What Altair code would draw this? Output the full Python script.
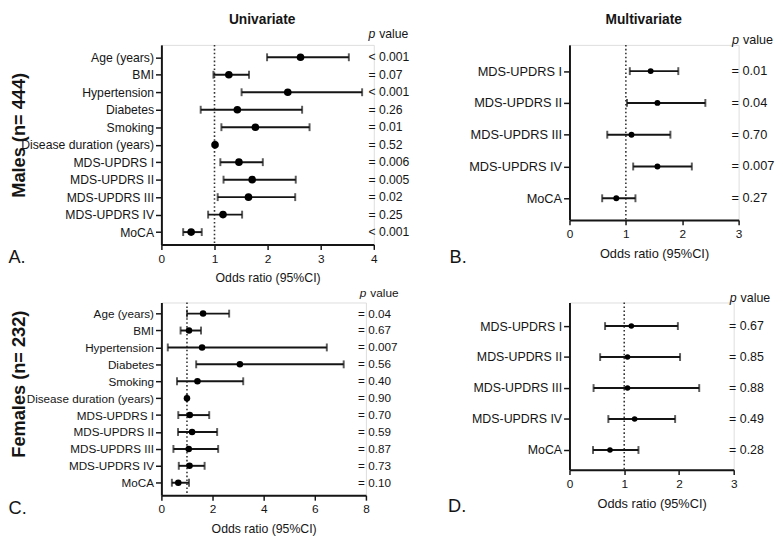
import altair as alt
import pandas as pd

# ---------------- data ----------------
uni_vars = ["Age (years)", "BMI", "Hypertension", "Diabetes", "Smoking",
            "Disease duration (years)", "MDS-UPDRS I", "MDS-UPDRS II",
            "MDS-UPDRS III", "MDS-UPDRS IV", "MoCA"]
multi_vars = ["MDS-UPDRS I", "MDS-UPDRS II", "MDS-UPDRS III", "MDS-UPDRS IV", "MoCA"]

# A. Males, univariate
male_uni_or = [2.62, 1.27, 2.38, 1.43, 1.77, 1.01, 1.46, 1.71, 1.64, 1.16, 0.56]
male_uni_lo = [1.99, 0.98, 1.51, 0.74, 1.13, 1.00, 1.11, 1.17, 1.06, 0.88, 0.41]
male_uni_hi = [3.53, 1.65, 3.78, 2.65, 2.79, 1.02, 1.91, 2.53, 2.52, 1.52, 0.76]
male_uni_p = ["< 0.001", "= 0.07", "< 0.001", "= 0.26", "= 0.01", "= 0.52",
              "= 0.006", "= 0.005", "= 0.02", "= 0.25", "< 0.001"]

# B. Males, multivariate
male_multi_or = [1.44, 1.56, 1.10, 1.56, 0.83]
male_multi_lo = [1.07, 1.02, 0.67, 1.13, 0.58]
male_multi_hi = [1.93, 2.41, 1.79, 2.17, 1.17]
male_multi_p = ["= 0.01", "= 0.04", "= 0.70", "= 0.007", "= 0.27"]

# C. Females, univariate
fem_uni_or = [1.63, 1.08, 1.59, 3.07, 1.41, 1.00, 1.11, 1.20, 1.07, 1.10, 0.66]
fem_uni_lo = [1.00, 0.75, 0.25, 1.36, 0.61, 0.99, 0.66, 0.65, 0.47, 0.68, 0.41]
fem_uni_hi = [2.65, 1.55, 6.47, 7.13, 3.20, 1.01, 1.87, 2.18, 2.22, 1.69, 1.08]
fem_uni_p = ["= 0.04", "= 0.67", "= 0.007", "= 0.56", "= 0.40", "= 0.90",
             "= 0.70", "= 0.59", "= 0.87", "= 0.73", "= 0.10"]

# D. Females, multivariate
fem_multi_or = [1.13, 1.06, 1.06, 1.19, 0.74]
fem_multi_lo = [0.65, 0.56, 0.44, 0.71, 0.43]
fem_multi_hi = [1.98, 2.02, 2.37, 1.93, 1.26]
fem_multi_p = ["= 0.67", "= 0.85", "= 0.88", "= 0.49", "= 0.28"]

FONT = "Liberation Sans"
INK = "#151515"


def text_layer(txt, x, y, size, weight="normal", style="normal", align="left",
               baseline="alphabetic", angle=0):
    return alt.Chart(pd.DataFrame({"t": [txt]})).mark_text(
        font=FONT, fontSize=size, fontWeight=weight, fontStyle=style,
        align=align, baseline=baseline, angle=angle, color=INK
    ).encode(text="t:N", x=alt.value(x), y=alt.value(y))


def panel(names, orv, lo, hi, pv, W, H, xmax, xticks, pad, align, lab_fs,
          pt_size, title_fs, ptx, annots):
    df = pd.DataFrame({"var": names, "or": orv, "lo": lo, "hi": hi, "pv": pv})
    yaxis = alt.Axis(title=None, labelFont=FONT, labelFontSize=lab_fs, labelColor=INK,
                     tickSize=6, tickWidth=1.5, tickColor=INK, domainColor=INK,
                     domainWidth=2, labelPadding=2, grid=False, labelLimit=300)
    yenc = alt.Y("var:N", sort=names, axis=yaxis,
                 scale=alt.Scale(type="point", padding=pad, align=align))
    xaxis = alt.Axis(title="Odds ratio (95%CI)", values=xticks, format="d",
                     labelFont=FONT, labelFontSize=12, labelColor=INK, labelFlush=False,
                     tickSize=5, tickWidth=1.5, tickColor=INK, domainColor=INK,
                     domainWidth=2, labelPadding=4, grid=False,
                     titleFont=FONT, titleFontSize=title_fs, titleFontWeight="normal",
                     titleColor=INK, titlePadding=8)
    xscale = alt.Scale(domain=[0, xmax], nice=False, zero=True)

    base = alt.Chart(df)
    bars = base.mark_rule(color=INK, strokeWidth=2).encode(
        x=alt.X("lo:Q", scale=xscale, axis=xaxis), x2="hi:Q", y=yenc)
    cap_lo = base.mark_tick(color=INK, thickness=2, size=8).encode(
        x=alt.X("lo:Q", scale=xscale, axis=xaxis), y=yenc)
    cap_hi = base.mark_tick(color=INK, thickness=2, size=8).encode(
        x=alt.X("hi:Q", scale=xscale, axis=xaxis), y=yenc)
    pts = base.mark_circle(color="#000000", opacity=1, size=pt_size).encode(
        x=alt.X("or:Q", scale=xscale, axis=xaxis), y=yenc)
    ptxt = base.mark_text(font=FONT, fontSize=lab_fs, align="left", baseline="middle",
                          color=INK).encode(x=alt.value(ptx), y=yenc, text="pv:N")
    refline = alt.Chart(pd.DataFrame({"ref": [1]})).mark_rule(
        color="#333333", strokeWidth=1.6, strokeDash=[1.6, 2.4]
    ).encode(x=alt.X("ref:Q", scale=xscale, axis=xaxis))

    layers = [refline, bars, cap_lo, cap_hi, pts, ptxt] + [text_layer(**a) for a in annots]
    return alt.layer(*layers).properties(width=W, height=H)


A = panel(uni_vars, male_uni_or, male_uni_lo, male_uni_hi, male_uni_p,
          W=216, H=203, xmax=4, xticks=[0, 1, 2, 3, 4], pad=0.709, align=0.5,
          lab_fs=12.4, pt_size=60, title_fs=12.5, ptx=210.5,
          annots=[
              dict(txt="Univariate", x=102.5, y=-32, size=14, weight="bold",
                   align="center", baseline="top"),
              dict(txt="p", x=210.5, y=-7.5, size=12.4, style="italic"),
              dict(txt="value", x=221.5, y=-7.5, size=12.4),
              dict(txt="A.", x=-155.5, y=222, size=18.5),
              dict(txt="Males (n= 444)", x=-145, y=92, size=18.5, weight="bold",
                   align="center", baseline="middle", angle=270),
          ])

B = panel(multi_vars, male_multi_or, male_multi_lo, male_multi_hi, male_multi_p,
          W=172, H=178, xmax=3, xticks=[0, 1, 2, 3], pad=0.753, align=0.548,
          lab_fs=13, pt_size=36, title_fs=13, ptx=164.7,
          annots=[
              dict(txt="Multivariate", x=75.5, y=-32, size=14, weight="bold",
                   align="center", baseline="top"),
              dict(txt="p", x=165.3, y=-1, size=12.8, style="italic"),
              dict(txt="value", x=176.5, y=-1, size=12.8),
              dict(txt="B.", x=-122, y=222, size=18.5),
          ])

C = panel(uni_vars, fem_uni_or, fem_uni_lo, fem_uni_hi, fem_uni_p,
          W=208, H=196, xmax=8, xticks=[0, 2, 4, 6, 8], pad=0.698, align=0.47,
          lab_fs=11.9, pt_size=44, title_fs=12.5, ptx=200,
          annots=[
              dict(txt="p", x=201.8, y=-5.3, size=12, style="italic"),
              dict(txt="value", x=212.5, y=-5.3, size=12),
              dict(txt="C.", x=-155.5, y=215, size=18.5),
              dict(txt="Females (n= 232)", x=-145, y=83, size=18.5, weight="bold",
                   align="center", baseline="middle", angle=270),
          ])

D = panel(multi_vars, fem_multi_or, fem_multi_lo, fem_multi_hi, fem_multi_p,
          W=167, H=170, xmax=3, xticks=[0, 1, 2, 3], pad=0.698, align=0.545,
          lab_fs=12.6, pt_size=32, title_fs=13, ptx=162.3,
          annots=[
              dict(txt="p", x=163, y=-0.3, size=12.6, style="italic"),
              dict(txt="value", x=174, y=-0.3, size=12.6),
              dict(txt="D.", x=-123.5, y=213, size=18.5),
          ])

chart = alt.concat(A, B, C, D, columns=2, bounds="flush",
                   spacing={"row": 59, "column": 199}, padding=0).configure_view(
    stroke=None
).configure(background="white")

chart.save("out.html", embed_options={"renderer": "svg", "actions": False})
